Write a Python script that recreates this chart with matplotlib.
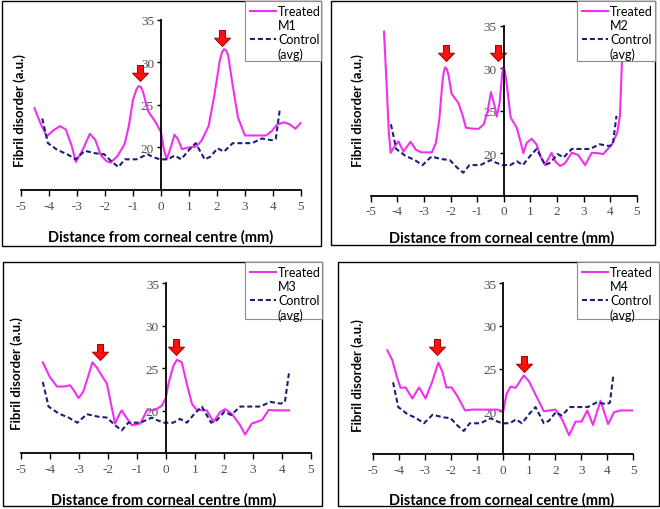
import matplotlib
matplotlib.use('Agg')
import matplotlib.pyplot as plt
from matplotlib.path import Path
from matplotlib.patches import Rectangle
from matplotlib.lines import Line2D

SANS = ['Lato', 'DejaVu Sans']
SERIF = ['Liberation Serif', 'DejaVu Serif']
plt.rcParams['axes.unicode_minus'] = False
plt.rcParams['font.family'] = SERIF

# Control curve (average) - same in every panel
ctrl_x = [-4.24, -4.04, -3.7, -3.35, -3.05, -2.72, -2.32, -2.03, -1.75, -1.52, -1.29, -0.88,
          -0.48, -0.3, -0.05, 0.25, 0.49, 0.72, 1.0, 1.24, 1.56, 1.76, 2.02, 2.25, 2.56,
          3.0, 3.25, 3.6, 3.95, 4.1, 4.24]
ctrl_y = [23.4, 20.5, 19.7, 19.2, 18.6, 19.6, 19.3, 19.2, 18.3, 17.7, 18.6, 18.6,
          19.2, 18.9, 18.6, 18.6, 19.05, 18.6, 19.7, 20.5, 18.6, 18.9, 19.9, 19.5, 20.5,
          20.5, 20.5, 21.05, 20.85, 21.0, 24.4]

# Treated mice
m1_x = [-4.52, -4.3, -4.08, -3.85, -3.6, -3.4, -3.2, -3.04, -2.8, -2.54, -2.35, -2.15, -1.95,
        -1.8, -1.55, -1.3, -1.15, -1.0, -0.88, -0.8, -0.72, -0.65, -0.45, -0.2, 0.0, 0.1, 0.2,
        0.35, 0.48, 0.6, 0.75, 1.0, 1.25, 1.45, 1.7, 1.9, 2.1, 2.18, 2.25, 2.32, 2.4, 2.55,
        2.75, 3.0, 3.2, 3.5, 3.75, 3.95, 4.15, 4.4, 4.6, 4.8, 5.0]
m1_y = [24.6, 22.8, 21.3, 22.0, 22.5, 22.1, 20.3, 18.3, 19.7, 21.6, 20.9, 19.1, 18.4,
        18.2, 19.0, 20.4, 22.5, 25.6, 26.8, 27.2, 27.1, 26.6, 24.2, 23.0, 21.8, 19.8, 18.6,
        20.0, 21.5, 21.0, 19.8, 20.0, 20.1, 20.8, 22.5, 26.0, 30.2, 31.2, 31.55, 31.4, 30.8, 27.5,
        23.5, 21.4, 21.4, 21.4, 21.4, 21.9, 22.7, 22.95, 22.7, 22.2, 22.9]

m2_x = [-4.5, -4.4, -4.32, -4.25, -4.1, -3.96, -3.77, -3.5, -3.3, -3.1, -2.9, -2.7, -2.55,
        -2.42, -2.3, -2.25, -2.2, -2.14, -2.08, -1.96, -1.7, -1.55, -1.42, -1.2, -0.95, -0.75,
        -0.6, -0.48, -0.36, -0.26, -0.15, -0.06, -0.02, 0.04, 0.11, 0.26, 0.49, 0.62, 0.74,
        0.86, 1.05, 1.24, 1.4, 1.55, 1.8, 1.95, 2.12, 2.3, 2.56, 2.8, 3.06, 3.31, 3.55, 3.74,
        4.06, 4.27, 4.37, 4.44, 4.48]
m2_y = [34.3, 28.0, 22.5, 20.05, 20.8, 21.4, 20.2, 21.35, 20.4, 20.1, 20.1, 20.1, 21.2,
        24.0, 28.5, 29.6, 30.1, 29.9, 29.3, 27.0, 25.9, 24.5, 23.0, 22.9, 22.85, 23.4,
        25.0, 27.2, 25.8, 24.3, 26.0, 29.2, 30.1, 29.7, 28.3, 24.2, 23.0, 21.5, 20.0,
        21.2, 21.7, 21.0, 19.5, 18.6, 20.05, 19.0, 18.5, 18.8, 20.05, 19.8, 18.6, 20.05, 20.0, 19.9,
        21.0, 22.4, 24.4, 30.3, 34.0]

m3_x = [-4.24, -4.0, -3.75, -3.52, -3.3, -3.15, -3.01, -2.85, -2.7, -2.53, -2.38, -2.2, -2.03,
        -1.9, -1.75, -1.6, -1.52, -1.34, -1.17, -0.88, -0.65, -0.37, -0.14, 0.0, 0.09, 0.26,
        0.38, 0.55, 0.72, 0.9, 1.07, 1.41, 1.64, 1.87, 2.04, 2.27, 2.56, 2.73, 2.96, 3.13,
        3.31, 3.54, 3.77, 4.25]
m3_y = [25.7, 24.0, 22.85, 22.85, 23.0, 22.3, 21.5, 22.2, 23.8, 25.7, 25.1, 24.1, 23.2,
        21.0, 18.5, 19.6, 20.05, 19.1, 18.3, 18.5, 20.05, 20.1, 20.6, 21.5, 23.2, 25.3,
        26.0, 25.7, 23.2, 20.8, 20.1, 20.05, 18.7, 19.85, 20.2, 19.65, 18.3, 17.2, 18.5, 18.7,
        18.9, 20.1, 20.05, 20.05]

m4_x = [-4.46, -4.27, -4.08, -3.95, -3.76, -3.5, -3.24, -2.99, -2.73, -2.5, -2.35, -2.19, -1.99,
        -1.77, -1.47, -1.19, -0.68, -0.23, 0.0, 0.12, 0.28, 0.47, 0.79, 0.99, 1.24, 1.56, 2.01,
        2.27, 2.53, 2.78, 3.01, 3.23, 3.45, 3.74, 4.03, 4.26, 4.51, 5.0]
m4_y = [27.15, 26.0, 23.9, 22.75, 22.8, 21.5, 22.8, 21.5, 23.5, 25.7, 24.7, 22.8, 22.8,
        21.8, 20.1, 20.2, 20.2, 20.2, 20.0, 22.0, 22.9, 22.75, 24.2, 23.5, 21.95, 20.0, 20.2,
        19.0, 17.2, 18.8, 18.8, 20.1, 18.4, 21.25, 18.5, 19.9, 20.1, 20.1]

# red arrows marking the peaks (x, centre y)
m1_arrow_x = [-0.75, 2.18]
m1_arrow_y = [28.75, 32.85]
m2_arrow_x = [-2.17, -0.22]
m2_arrow_y = [31.75, 31.75]
m3_arrow_x = [-2.28, 0.35]
m3_arrow_y = [26.9, 27.55]
m4_arrow_x = [-2.54, 0.8]
m4_arrow_y = [27.5, 25.5]

x_ticks = [-5, -4, -3, -2, -1, 0, 1, 2, 3, 4, 5]
y_ticks = [20, 25, 30, 35]

W, H = 660, 510
fig = plt.figure(figsize=(W / 100, H / 100), dpi=100)

TREATED_COLOR = '#f030f0'
CONTROL_COLOR = '#1c1f78'

arrow_path = Path([(-0.19, 0.5), (0.19, 0.5), (0.19, 0.02), (0.5, 0.02), (0.0, -0.5),
                   (-0.5, 0.02), (-0.19, 0.02), (-0.19, 0.5)], closed=True)


def px_rect(l, t, r, b):
    return [l / W, 1 - b / H, (r - l) / W, (b - t) / H]


def fx(x):
    return x / W


def fy(y):
    return 1 - y / H


panels = [
    dict(tx=m1_x, ty=m1_y, ax_=m1_arrow_x, ay_=m1_arrow_y, name='M1',
         axes=(21, 20.7, 301, 191), border=(2, 2, 321, 247), legend=(245, 2, 321, 62),
         ylab=(20, 111), xlab=(161, 237)),
    dict(tx=m2_x, ty=m2_y, ax_=m2_arrow_x, ay_=m2_arrow_y, name='M2',
         axes=(370.7, 26.7, 636.7, 196.7), border=(331, 2, 655, 246), legend=(577, 2, 655, 62),
         ylab=(358, 111), xlab=(502, 238)),
    dict(tx=m3_x, ty=m3_y, ax_=m3_arrow_x, ay_=m3_arrow_y, name='M3',
         axes=(20.7, 284.3, 311, 454.3), border=(3, 263, 322, 507), legend=(245, 263, 322, 320),
         ylab=(17, 374), xlab=(164, 500)),
    dict(tx=m4_x, ty=m4_y, ax_=m4_arrow_x, ay_=m4_arrow_y, name='M4',
         axes=(373.3, 284.3, 633.3, 455), border=(338, 263, 659, 507), legend=(577, 263, 659, 320),
         ylab=(358, 376), xlab=(502, 500)),
]

for p in panels:
    ax = fig.add_axes(px_rect(*p['axes']))
    ax.patch.set_alpha(0)
    ax.plot(p['tx'], p['ty'], color=TREATED_COLOR, lw=1.5, solid_joinstyle='round')
    ctrl, = ax.plot(ctrl_x, ctrl_y, color=CONTROL_COLOR, lw=1.5)
    ctrl.set_dashes([2.4, 1.4])
    ax.plot(p['ax_'], p['ay_'], linestyle='none', marker=arrow_path, markersize=11.5,
            markerfacecolor='#ff1010', markeredgecolor='#a00000', markeredgewidth=0.7)

    ax.set_xlim(-5, 5)
    ax.set_ylim(15, 35)
    ax.set_xticks(x_ticks)
    ax.set_yticks(y_ticks)
    for s in ['top', 'right']:
        ax.spines[s].set_visible(False)
    ax.spines['left'].set_position(('data', 0))
    ax.spines['left'].set_linewidth(1.3)
    ax.spines['bottom'].set_linewidth(1.3)
    ax.tick_params(axis='x', direction='out', length=4, width=1, pad=3,
                   labelsize=9.5, labelcolor='#505050')
    ax.tick_params(axis='y', direction='out', length=3, width=1, pad=2,
                   labelsize=9.5, labelcolor='#505050')

    # axis labels
    fig.text(fx(p['ylab'][0]), fy(p['ylab'][1]), 'Fibril disorder (a.u.)', rotation=90,
             ha='center', va='center', fontsize=9.5, fontweight='bold', family=SANS)
    fig.text(fx(p['xlab'][0]), fy(p['xlab'][1]), 'Distance from corneal centre (mm)',
             ha='center', va='center', fontsize=10.5, fontweight='bold', family=SANS)

    # panel border
    l, t, r, b = p['border']
    fig.add_artist(Rectangle((fx(l), fy(b)), (r - l) / W, (b - t) / H, transform=fig.transFigure,
                             fill=False, edgecolor='black', lw=1.0, zorder=3))

    # legend box
    l, t, r, b = p['legend']
    fig.add_artist(Rectangle((fx(l), fy(b)), (r - l) / W, (b - t) / H, transform=fig.transFigure,
                             facecolor='white', edgecolor='#8a8a8a', lw=0.8, zorder=4))
    fig.add_artist(Line2D([fx(l + 5), fx(l + 31)], [fy(t + 10), fy(t + 10)],
                          transform=fig.transFigure, color=TREATED_COLOR, lw=1.5, zorder=5))
    dl = Line2D([fx(l + 5), fx(l + 31)], [fy(t + 38), fy(t + 38)],
                transform=fig.transFigure, color=CONTROL_COLOR, lw=1.5, zorder=5)
    dl.set_dashes([2.4, 1.4])
    fig.add_artist(dl)
    for i, txt in enumerate(['Treated', p['name'], 'Control', '(avg)']):
        fig.text(fx(l + 33), fy(t + 10 + i * 14.2), txt, ha='left', va='center',
                 fontsize=9, family=SANS, zorder=6)

fig.savefig('out.png', dpi=100)
